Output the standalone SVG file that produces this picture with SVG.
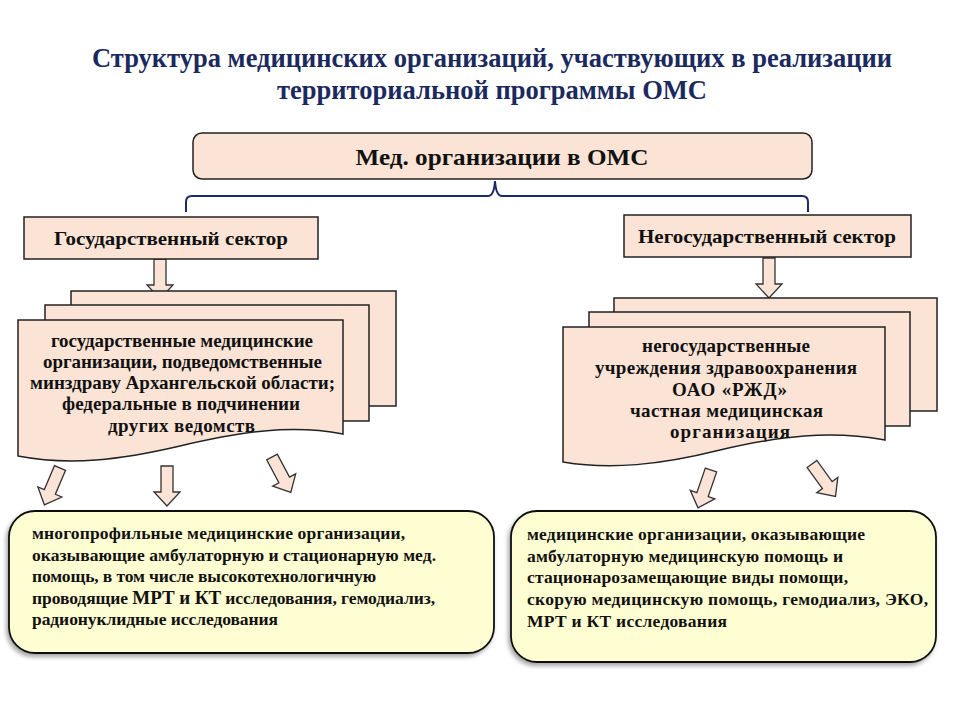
<svg xmlns="http://www.w3.org/2000/svg" xmlns:xlink="http://www.w3.org/1999/xlink" width="960" height="720" viewBox="0 0 960 720">
<style>
.t{font-family:"Liberation Serif","Times New Roman",serif;font-weight:bold;fill:#111}
.title{font-family:"Liberation Serif","Times New Roman",serif;font-weight:bold;fill:#1b2a5e;font-size:27px}
.peach{fill:#fbe4d5;stroke:#222;stroke-width:1.5}
.yel{fill:#fffed2;stroke:#111;stroke-width:1.8}
.arr{fill:#fbe4d5;stroke:#333;stroke-width:1.3}
.brace{fill:none;stroke:#1b2a6b;stroke-width:2}
</style>
<defs>
<polygon id="da" points="-6,0 6,0 6,26 13,26 0,40 -13,26 -6,26"/>
<filter id="sh" x="-5%" y="-5%" width="110%" height="115%"><feDropShadow dx="-2" dy="3" stdDeviation="2" flood-color="#000" flood-opacity="0.35"/></filter>
</defs>
<rect width="960" height="720" fill="#fff"/>
<g id="title">
<text class="title" x="492" y="67" text-anchor="middle" textLength="800" lengthAdjust="spacingAndGlyphs">Структура медицинских организаций, участвующих в реализации</text>
<text class="title" x="492" y="99" text-anchor="middle" textLength="430" lengthAdjust="spacingAndGlyphs">территориальной программы ОМС</text>
</g>
<g id="connectors">
<path class="brace" d="M186,212 V202 Q186,196 192,196 H488 Q494,196 495,181 Q496,196 502,196 H802 Q808,196 808,202 V212"/>
<use href="#da" class="arr" transform="translate(160,259)"/>
<use href="#da" class="arr" transform="translate(769,258)"/>
<use href="#da" class="arr" transform="translate(60,468) rotate(23)"/>
<use href="#da" class="arr" transform="translate(167,466)"/>
<use href="#da" class="arr" transform="translate(272,457) rotate(-28)"/>
<use href="#da" class="arr" transform="translate(711,470) rotate(19)"/>
<use href="#da" class="arr" transform="translate(812,464) rotate(-36)"/>
</g>
<g id="top">
<rect class="peach" x="193" y="133" width="619" height="46" rx="9"/>
<text class="t" x="502" y="165" font-size="23" text-anchor="middle" textLength="293" lengthAdjust="spacingAndGlyphs">Мед. организации в ОМС</text>
</g>
<g id="gov">
<rect class="peach" x="24" y="217" width="294" height="42"/>
<text class="t" x="171" y="245" font-size="19" text-anchor="middle" textLength="234" lengthAdjust="spacingAndGlyphs">Государственный сектор</text>
</g>
<g id="nongov">
<rect class="peach" x="624" y="215" width="287" height="42"/>
<text class="t" x="767" y="243" font-size="19" text-anchor="middle" textLength="258" lengthAdjust="spacingAndGlyphs">Негосударственный сектор</text>
</g>
<g id="govdocs">
<rect class="peach" x="71" y="291" width="325" height="115"/>
<rect class="peach" x="45" y="305" width="324" height="116"/>
<path class="peach" d="M18,320 H343 V434 C290,424 240,432 180,446 C120,460 70,466 18,456 Z"/>
<g class="t" font-size="19" lengthAdjust="spacingAndGlyphs">
<text x="51" y="347" textLength="262">государственные медицинские</text>
<text x="43" y="368" textLength="279">организации, подведомственные</text>
<text x="30" y="389" textLength="305">минздраву Архангельской области;</text>
<text x="62" y="410" textLength="238">федеральные в подчинении</text>
<text x="108" y="432" textLength="147">других ведомств</text>
</g>
</g>
<g id="nongovdocs">
<rect class="peach" x="614" y="298" width="323" height="113"/>
<rect class="peach" x="589" y="312" width="321" height="114"/>
<path class="peach" d="M563,327 H885 V440 C830,430 780,436 720,450 C660,465 610,470 563,462 Z"/>
<g class="t" font-size="19" lengthAdjust="spacingAndGlyphs">
<text x="642" y="352" textLength="168">негосударственные</text>
<text x="595" y="374" textLength="262">учреждения здравоохранения</text>
<text x="672" y="396" textLength="115">ОАО «РЖД»</text>
<text x="630" y="417" textLength="193">частная медицинская</text>
<text x="670" y="438" textLength="120">организация</text>
</g>
</g>
<g id="govservices">
<rect class="yel" x="9" y="511" width="485" height="142" rx="26" filter="url(#sh)"/>
<g class="t" font-size="17.5" lengthAdjust="spacingAndGlyphs">
<text x="32" y="539" textLength="373">многопрофильные медицинские организации,</text>
<text x="32" y="561" textLength="404">оказывающие амбулаторную и стационарную мед.</text>
<text x="32" y="582" textLength="344">помощь, в том числе высокотехнологичную</text>
<text x="32" y="604" textLength="403">проводящие <tspan font-size="19">МРТ и КТ</tspan> исследования, гемодиализ,</text>
<text x="32" y="625" textLength="246">радионуклидные исследования</text>
</g>
</g>
<g id="nongovservices">
<rect class="yel" x="511" y="511" width="425" height="151" rx="26" filter="url(#sh)"/>
<g class="t" font-size="17.5" lengthAdjust="spacingAndGlyphs">
<text x="527" y="540" textLength="338">медицинские организации, оказывающие</text>
<text x="527" y="562" textLength="316">амбулаторную медицинскую помощь и</text>
<text x="527" y="583" textLength="321">стационарозамещающие виды помощи,</text>
<text x="527" y="605" textLength="401">скорую медицинскую помощь, гемодиализ, ЭКО,</text>
<text x="527" y="627" textLength="200">МРТ и КТ исследования</text>
</g>
</g>
</svg>
